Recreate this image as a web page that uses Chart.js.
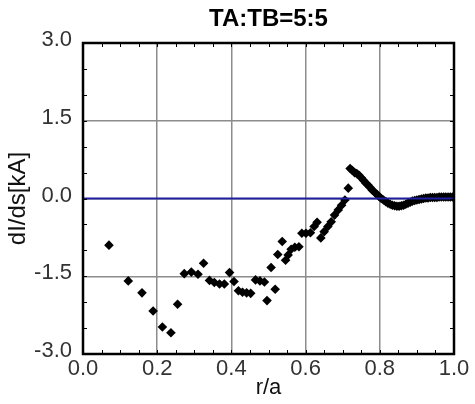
<!DOCTYPE html>
<html>
<head>
<meta charset="utf-8">
<script src="https://cdn.jsdelivr.net/npm/chart.js@4.4.0/dist/chart.umd.min.js"></script>
<style>
  html, body { margin: 0; padding: 0; background: #fff; }
</style>
</head>
<body>
<canvas id="myChart" width="475" height="404"></canvas>
<script>
var chartTitle = "TA:TB=5:5";

// normalised radius r/a
var rPos = [
  0.070, 0.122, 0.159, 0.189, 0.214, 0.237, 0.255, 0.273, 0.292, 0.310,
  0.325, 0.341, 0.354, 0.368, 0.381, 0.395, 0.407, 0.419, 0.430, 0.441,
  0.452, 0.465, 0.477, 0.489, 0.496, 0.507, 0.518, 0.525, 0.537, 0.546,
  0.553, 0.561, 0.571, 0.582, 0.590, 0.601, 0.613, 0.623, 0.631, 0.641,
  0.650, 0.660, 0.669, 0.678, 0.688, 0.697, 0.706, 0.715,
  0.720, 0.726, 0.732, 0.738, 0.744, 0.750, 0.756, 0.762, 0.768, 0.774,
  0.780, 0.786, 0.792, 0.798, 0.804, 0.810, 0.816, 0.822, 0.828, 0.834,
  0.840, 0.846, 0.852, 0.858, 0.864, 0.870, 0.876, 0.882, 0.888, 0.894,
  0.900, 0.906, 0.912, 0.918, 0.924, 0.930, 0.936, 0.942, 0.948, 0.954,
  0.960, 0.966, 0.972, 0.978, 0.984, 0.990, 0.996, 1.000
];

// dI/ds in kA
var dIds = [
  -0.90, -1.59, -1.82, -2.17, -2.48, -2.59, -2.04, -1.45, -1.42, -1.46,
  -1.25, -1.58, -1.62, -1.65, -1.65, -1.43, -1.60, -1.78, -1.81, -1.82,
  -1.83, -1.57, -1.59, -1.61, -1.97, -1.33, -1.75, -1.08, -0.83, -1.19,
  -1.09, -0.98, -0.94, -0.93, -0.67, -0.67, -0.66, -0.54, -0.46, -0.76,
  -0.64, -0.54, -0.45, -0.32, -0.22, -0.13, -0.03, 0.20,
  0.58, 0.54, 0.50, 0.48, 0.45, 0.40, 0.35, 0.30, 0.26, 0.21,
  0.16, 0.12, 0.08, 0.04, 0.00, -0.03, -0.06, -0.09, -0.11, -0.13,
  -0.14, -0.15, -0.15, -0.14, -0.13, -0.11, -0.09, -0.07, -0.05, -0.04,
  -0.03, -0.02, -0.01, 0.00, 0.01, 0.01, 0.02, 0.02, 0.02, 0.02,
  0.03, 0.03, 0.03, 0.03, 0.03, 0.03, 0.03, 0.03
];

// zero reference line
var zeroLine = [{x: 0, y: 0}, {x: 1, y: 0}];

var points = [];
for (var i = 0; i < rPos.length; i++) {
  points.push({x: rPos[i], y: dIds[i]});
}

Chart.defaults.font.family = '"Liberation Sans", Arial, sans-serif';

// box around the plot, small inward ticks and the title
var framePlugin = {
  id: 'frame',
  afterDraw: function (chart) {
    var ctx = chart.ctx, a = chart.chartArea;
    var xs = chart.scales.x, ys = chart.scales.y;
    ctx.save();
    ctx.strokeStyle = '#000';
    ctx.lineWidth = 1;
    ctx.beginPath();
    for (var k = 1; k < 20; k++) {
      var px = Math.round(xs.getPixelForValue(k * 0.05)) + 0.5;
      ctx.moveTo(px, a.top); ctx.lineTo(px, a.top + 4);
      ctx.moveTo(px, a.bottom); ctx.lineTo(px, a.bottom - 4);
    }
    for (var j = -5; j <= 5; j++) {
      var py = Math.round(ys.getPixelForValue(j * 0.5)) + 0.5;
      ctx.moveTo(a.left, py); ctx.lineTo(a.left + 4, py);
      ctx.moveTo(a.right, py); ctx.lineTo(a.right - 4, py);
    }
    ctx.stroke();
    ctx.lineWidth = 2.5;
    ctx.strokeRect(a.left, a.top, a.right - a.left, a.bottom - a.top);

    ctx.font = 'bold 24px "Liberation Sans", Arial, sans-serif';
    ctx.fillStyle = '#000';
    ctx.textAlign = 'center';
    ctx.textBaseline = 'middle';
    ctx.fillText(chartTitle, (a.left + a.right) / 2, 19);
    ctx.restore();
  }
};

new Chart("myChart", {
  type: "scatter",
  data: {
    datasets: [{
      type: "line",
      data: zeroLine,
      borderColor: "#1f1f9e",
      borderWidth: 2,
      pointRadius: 0,
      order: 0
    }, {
      data: points,
      pointStyle: "rectRot",
      pointRadius: 4.8,
      backgroundColor: "#000",
      borderWidth: 0,
      order: 1
    }]
  },
  options: {
    responsive: false,
    animation: false,
    layout: { padding: { top: 43, right: 21, bottom: 0, left: 0 } },
    plugins: {
      legend: { display: false },
      tooltip: { enabled: false }
    },
    scales: {
      x: {
        type: "linear",
        min: 0,
        max: 1,
        ticks: {
          stepSize: 0.2,
          callback: function (v) { return v.toFixed(1); },
          font: { size: 22 },
          color: "#333",
          padding: 2
        },
        grid: { color: "#8c8c8c", lineWidth: 1.5, drawTicks: false },
        border: { display: false },
        title: {
          display: true,
          text: "r/a",
          font: { size: 22 },
          color: "#111",
          padding: { top: 0, bottom: 3 }
        },
        afterFit: function (s) { s.height = 50; }
      },
      y: {
        min: -3,
        max: 3,
        ticks: {
          stepSize: 1.5,
          callback: function (v) { return v.toFixed(1); },
          font: { size: 22 },
          color: "#333",
          padding: 11,
          labelOffset: -3
        },
        grid: { color: "#8c8c8c", lineWidth: 1.5, drawTicks: false },
        border: { display: false },
        title: {
          display: true,
          text: "dI/ds[kA]",
          font: { size: 24 },
          color: "#111",
          padding: { top: 4, bottom: 0 }
        },
        afterFit: function (s) { s.width = 83; }
      }
    }
  },
  plugins: [framePlugin]
});
</script>
</body>
</html>
